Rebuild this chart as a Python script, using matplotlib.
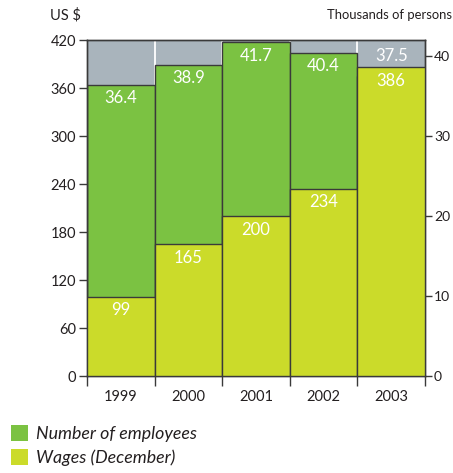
import matplotlib
matplotlib.use("Agg")
import matplotlib.pyplot as plt
from matplotlib.patches import Patch

plt.rcParams['font.family'] = ['Lato', 'DejaVu Sans']

years = ["1999", "2000", "2001", "2002", "2003"]
employees = [36.4, 38.9, 41.7, 40.4, 37.5]   # thousands of persons
wages = [99, 165, 200, 234, 386]             # US $, December

green = "#7bc242"
yellow = "#cbdb2a"
grey_bg = "#a9b4bc"
edge = "#3a3a3a"
text_col = "#231f20"

fig = plt.figure(figsize=(4.53, 4.73), dpi=100)
ax = fig.add_axes([87 / 453, 1 - 376 / 473, (425 - 87) / 453, (376 - 40) / 473])
ax2 = ax.twinx()

# employees on the right axis, drawn underneath the wages
ax2.set_zorder(1)
ax.set_zorder(2)
ax.patch.set_visible(False)
ax2.patch.set_visible(True)
ax2.patch.set_facecolor(grey_bg)

ax.set_xlim(-0.5, 4.5)
ax.set_ylim(0, 420)
ax2.set_ylim(0, 42)
scale = 420 / 42  # left-axis units per right-axis unit

x = list(range(len(years)))
for b in [0.5, 1.5, 2.5, 3.5]:
    ax2.axvline(b, color="white", lw=1.3, zorder=0)

ax2.bar(x, employees, width=1.0, color=green, edgecolor=edge, linewidth=1.0, zorder=2)
ax.bar(x, wages, width=1.0, color=yellow, edgecolor=edge, linewidth=1.0, zorder=3)

for xi, v, w in zip(x, employees, wages):
    if w >= v * scale:
        # the wage bar covers this column: put the head-count above it
        ax.annotate(f"{v:.1f}", (xi, w), xytext=(0, 2), textcoords="offset points",
                    ha="center", va="bottom", color="white", fontsize=12, zorder=6)
    else:
        ax2.annotate(f"{v:.1f}", (xi, v), xytext=(0, -4), textcoords="offset points",
                     ha="center", va="top", color="white", fontsize=12, zorder=4)
for xi, v in zip(x, wages):
    ax.annotate(f"{v}", (xi, v), xytext=(0, -4), textcoords="offset points",
                ha="center", va="top", color="white", fontsize=12, zorder=5)

ax.set_yticks(range(0, 421, 60))
ax2.set_yticks(range(0, 41, 10))

# boundary ticks without labels, year labels centred under each bar
ax.set_xticks([i - 0.5 for i in range(len(years) + 1)])
ax.set_xticklabels([])
ax.set_xticks(x, minor=True)
ax.set_xticklabels(years, minor=True)
ax.tick_params(axis="x", which="major", length=7, width=1.0, color=edge, direction="out")
ax.tick_params(axis="x", which="minor", length=0, pad=10, labelsize=10.5, labelcolor=text_col)
ax.tick_params(axis="y", length=6, width=1.0, color=edge, labelsize=10.5, labelcolor=text_col, pad=2)
ax2.tick_params(axis="y", length=5, width=1.0, color=edge, labelsize=10, labelcolor=text_col, pad=1.5)

for a in (ax, ax2):
    for s in a.spines.values():
        s.set_color(edge)
        s.set_linewidth(1.0)

fig.text(50 / 453, 1 - 15 / 473, "US $", ha="left", va="center", fontsize=10.5, color=text_col)
fig.text(452 / 453, 1 - 15 / 473, "Thousands of persons", ha="right", va="center",
         fontsize=9.4, color=text_col)

handles = [Patch(facecolor=green, edgecolor="none"), Patch(facecolor=yellow, edgecolor="none")]
fig.legend(handles, ["Number of employees", "Wages (December)"], loc="lower left",
           bbox_to_anchor=(0.0, -0.008), frameon=False, handlelength=1.0, handleheight=1.0,
           handletextpad=0.45, labelspacing=0.4, borderaxespad=0.2,
           prop={"style": "italic", "size": 12.8}, labelcolor=text_col)

fig.savefig("out.png", dpi=100)
